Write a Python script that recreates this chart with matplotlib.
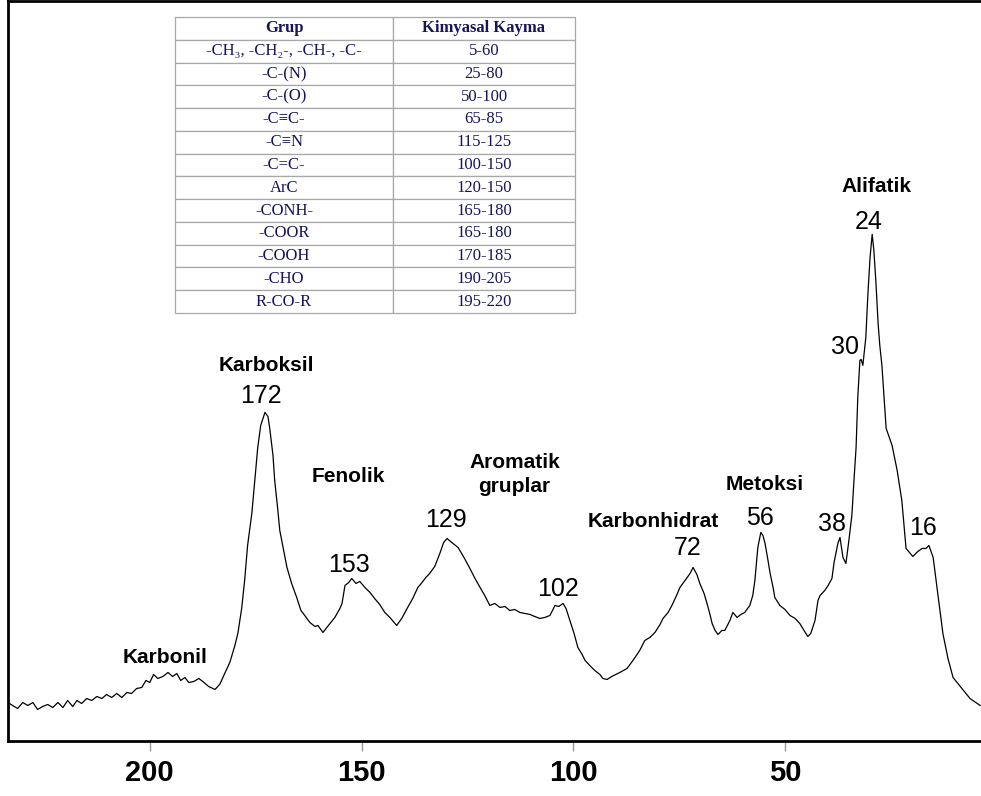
import matplotlib
matplotlib.use("Agg")
import matplotlib.pyplot as plt
import numpy as np

# ---------------- data ----------------
shift_ppm = [233.5, 232.4, 231.2, 230.0, 228.8, 227.6, 226.5, 225.3, 224.1, 222.9,
             221.7, 220.5, 219.4, 218.2, 217.2, 216.1, 214.9, 213.7, 212.5, 211.3,
             210.2, 209.0, 207.8, 206.6, 205.4, 204.3, 203.1, 201.9, 200.9, 200.0,
             199.1, 198.1, 196.9, 195.7, 194.6, 193.6, 192.7, 191.7, 190.8, 189.6,
             188.4, 187.2, 186.1, 184.6, 183.5, 182.3, 181.1, 179.9, 179.2, 178.3,
             177.6, 176.9, 175.9, 175.2, 174.5, 173.8, 172.8, 172.1, 171.7, 170.9,
             170.5, 169.8, 169.3, 168.3, 167.6, 166.5, 165.3, 164.3, 163.4, 162.2,
             161.0, 160.3, 159.1, 158.0, 156.3, 155.1, 154.6, 153.9, 153.0, 152.3,
             151.3, 150.4, 149.2, 148.0, 146.9, 145.7, 144.5, 143.3, 141.7, 140.5,
             139.1, 137.9, 136.7, 135.7, 134.8, 133.9, 132.7, 131.5, 130.6, 129.8,
             128.7, 127.2, 125.8, 124.4, 123.2, 122.0, 120.9, 119.7, 118.5, 117.3,
             116.1, 115.0, 113.8, 112.6, 111.4, 110.2, 109.1, 107.9, 106.7, 105.5,
             104.3, 103.4, 102.4, 101.7, 100.8, 99.8, 98.9, 97.9, 97.2, 96.1,
             94.9, 93.7, 93.0, 92.0, 90.9, 89.0, 87.3, 85.9, 84.3, 83.1,
             81.9, 80.7, 79.5, 78.8, 77.6, 76.7, 75.7, 74.8, 73.6, 72.4,
             71.7, 70.8, 70.1, 69.1, 68.4, 67.7, 67.2, 66.5, 65.8, 64.9,
             64.2, 63.0, 62.3, 61.3, 60.4, 59.5, 58.3, 57.6, 57.1, 56.4,
             55.7, 55.2, 54.7, 54.0, 53.5, 52.8, 52.4, 51.2, 50.0, 48.8,
             47.6, 46.5, 45.5, 44.6, 43.9, 42.9, 42.2, 41.7, 40.6, 39.8,
             38.9, 38.4, 37.5, 37.0, 36.3, 35.6, 34.9, 34.2, 33.7, 33.2,
             32.8, 32.3, 32.0, 31.6, 30.9, 30.4, 29.9, 29.4, 29.0, 28.5,
             28.0, 27.6, 27.1, 26.6, 26.1, 24.7, 23.5, 22.4, 21.4, 19.8,
             18.6, 17.6, 16.7, 16.0, 15.0, 14.1, 12.7, 11.5, 10.3, 8.2,
             6.3, 3.9]
intensity = [38, 35, 32, 38, 35, 38, 31, 34, 36, 33,
             38, 33, 40, 34, 40, 37, 42, 40, 44, 42,
             46, 43, 47, 43, 48, 47, 52, 53, 60, 58,
             66, 62, 64, 68, 64, 67, 60, 63, 58, 59,
             62, 58, 54, 51, 56, 67, 78, 95, 107, 132,
             160, 195, 227, 260, 293, 315, 328, 324, 313, 285,
             260, 232, 210, 188, 173, 157, 143, 130, 125, 118,
             114, 115, 108, 114, 123, 132, 137, 155, 158, 162,
             157, 159, 153, 148, 142, 136, 128, 123, 115, 122,
             133, 142, 153, 158, 163, 167, 174, 187, 198, 202,
             198, 193, 183, 172, 162, 153, 145, 135, 137, 133,
             134, 130, 131, 128, 127, 126, 124, 122, 123, 125,
             135, 134, 137, 132, 120, 107, 93, 86, 80, 75,
             70, 66, 62, 61, 64, 68, 72, 80, 90, 100,
             103, 108, 116, 122, 128, 135, 144, 153, 160, 167,
             173, 166, 157, 147, 137, 126, 117, 110, 106, 110,
             110, 120, 128, 123, 126, 128, 135, 145, 160, 193,
             208, 205, 197, 180, 167, 153, 143, 135, 131, 125,
             122, 117, 110, 104, 107, 120, 140, 145, 150, 155,
             162, 178, 197, 203, 183, 177, 200, 225, 260, 293,
             343, 380, 381, 375, 403, 447, 483, 506, 490, 457,
             417, 395, 375, 343, 312, 295, 270, 240, 192, 184,
             189, 192, 192, 195, 183, 153, 107, 82, 63, 52,
             42, 35]

tick_values = [200, 150, 100, 50]
tick_labels = ["200", "150", "100", "50"]

group_labels = ["Karbonil", "Karboksil", "Fenolik", "Aromatik", "gruplar",
                "Karbonhidrat", "Metoksi", "Alifatik"]
peak_labels = ["172", "153", "129", "102", "72", "56", "38", "30", "24", "16"]

table_header = ["Grup", "Kimyasal Kayma"]
table_groups = ["-CH\u2083, -CH\u2082-, -CH-, -C-", "-C-(N)", "-C-(O)", "-C\u2261C-",
                "-C\u2261N", "-C=C-", "ArC", "-CONH-", "-COOR", "-COOH", "-CHO", "R-CO-R"]
table_shifts = ["5-60", "25-80", "50-100", "65-85", "115-125", "100-150",
                "120-150", "165-180", "165-180", "170-185", "190-205", "195-220"]

# ---------------- layout ----------------
group_pos = [(196.5, 77), (172.4, 369), (153.2, 258), (113.8, 272), (114.0, 248),
             (81.2, 213), (54.7, 250), (28.3, 548)]
peak_pos = [(173.8, 337), (152.9, 168), (130.1, 213), (103.6, 144), (72.9, 185),
            (55.9, 215), (38.9, 209), (35.8, 386), (30.3, 511), (17.5, 205)]

W, H = 981, 796
fig = plt.figure(figsize=(W / 100, H / 100), dpi=100)
fig.patch.set_facecolor("white")

left_px, right_px, top_px, bottom_px = 7.5, 981, 1.3, 740.5
ax = fig.add_axes([left_px / W, (H - bottom_px) / H,
                   (right_px - left_px) / W, (bottom_px - top_px) / H])
ax.plot(shift_ppm, intensity, color="black", lw=0.9)
ax.set_xlim(233.6, 3.7)
ax.set_ylim(0, 739)

for side in ["left", "top", "bottom"]:
    ax.spines[side].set_linewidth(2.0)
    ax.spines[side].set_color("black")
ax.spines["right"].set_visible(False)
ax.set_yticks([])
ax.set_xticks(tick_values)
ax.set_xticklabels(tick_labels, fontfamily="Liberation Sans", fontweight="bold", fontsize=21)
ax.tick_params(axis="x", direction="out", length=7.2, width=1, color="#9a9a9a", pad=6)

for txt, (x, y) in zip(group_labels, group_pos):
    ax.text(x, y, txt, ha="center", va="baseline", fontfamily="Liberation Sans",
            fontweight="bold", fontsize=15)
for txt, (x, y) in zip(peak_labels, peak_pos):
    ax.text(x, y, txt, ha="center", va="baseline", fontfamily="Liberation Sans",
            fontsize=18)

# ---------------- table ----------------
tx0, tx1, ty0, ty1 = 175, 575, 17, 313
tax = fig.add_axes([tx0 / W, (H - ty1) / H, (tx1 - tx0) / W, (ty1 - ty0) / H])
tax.axis("off")
cell_text = [list(r) for r in zip(table_groups, table_shifts)]
tbl = tax.table(cellText=cell_text, colLabels=table_header, cellLoc="center",
                colWidths=[0.545, 0.455], bbox=[0, 0, 1, 1])
tbl.auto_set_font_size(False)
navy = "#15155e"
for (r, c), cell in tbl.get_celld().items():
    cell.set_edgecolor("#a8a8a8")
    cell.set_linewidth(0.9)
    cell.set_facecolor("white")
    t = cell.get_text()
    t.set_color(navy)
    t.set_fontsize(12)
    t.set_fontfamily(["Liberation Serif", "DejaVu Serif"])
    if r == 0:
        t.set_fontweight("bold")

fig.savefig("out.png", dpi=100, facecolor="white")
